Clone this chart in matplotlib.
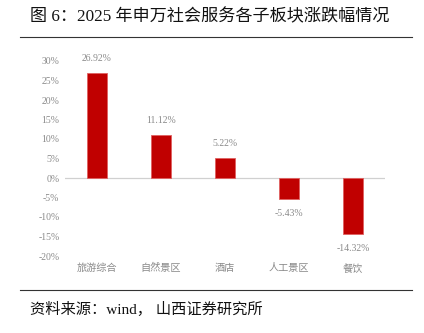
import matplotlib.pyplot as plt
from matplotlib.lines import Line2D

plt.rcParams['font.family'] = ['Liberation Serif', 'Noto Sans CJK SC', 'DejaVu Sans']

categories = ['旅游综合', '自然景区', '酒店', '人工景区', '餐饮']
changes = [26.92, 11.12, 5.22, -5.43, -14.32]
yticks = [-20, -15, -10, -5, 0, 5, 10, 15, 20, 25, 30]

gray = '#8a8a8a'
red = '#C00000'

fig = plt.figure(figsize=(4.24, 3.33), dpi=100)
ax = fig.add_axes([65 / 424, 77 / 333, 320 / 424, 195 / 333])

x = range(len(categories))
ax.bar(x, changes, width=0.31, color=red, edgecolor='#e06060', linewidth=0.6, zorder=3)
ax.axhline(0, color='#d0d0d0', linewidth=0.9, zorder=2)

for i, v in enumerate(changes):
    off = 3.6 if v > 0 else -3.8
    ax.text(i, v + off, f'{v:.2f}%', ha='center', va='center', fontsize=7,
            color=gray)

ax.set_xlim(-0.5, 4.5)
ax.set_ylim(-20, 30)
ax.set_yticks(yticks)
ax.set_yticklabels([f'{t}%' for t in yticks], fontsize=7, color=gray)
ax.set_xticks(list(x))
ax.set_xticklabels(categories, fontsize=7.3, color=gray, family=['Noto Sans CJK SC'])
ax.tick_params(length=0, pad=4)
ax.tick_params(axis='x', pad=5)
for s in ax.spines.values():
    s.set_visible(False)

fig.text(30 / 424, 1 - 17 / 333, '图 6：2025 年申万社会服务各子板块涨跌幅情况',
         fontsize=12.3, va='center', ha='left', color='#111111')
fig.add_artist(Line2D([20 / 424, 412 / 424], [1 - 37 / 333] * 2, color='#333333', linewidth=0.8))
fig.add_artist(Line2D([20 / 424, 412 / 424], [1 - 290 / 333] * 2, color='#333333', linewidth=0.8))
fig.text(30 / 424, 1 - 309 / 333, '资料来源：wind， 山西证券研究所',
         fontsize=11, va='center', ha='left', color='#111111')

fig.savefig('out.png', dpi=100)
